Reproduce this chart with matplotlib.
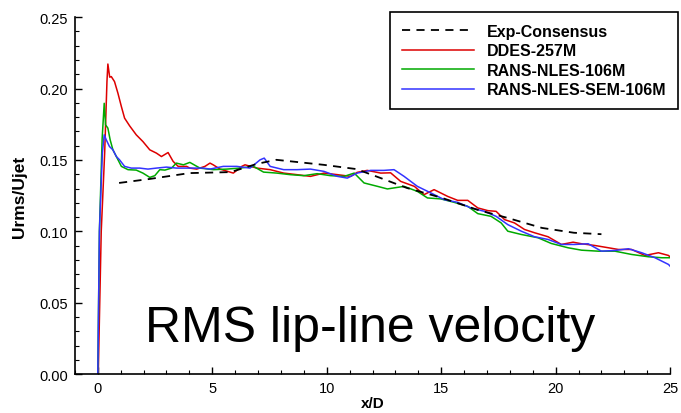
import matplotlib
matplotlib.use('Agg')
import matplotlib.pyplot as plt
from matplotlib.ticker import MultipleLocator

plt.rcParams['font.family'] = ['Liberation Sans', 'DejaVu Sans']

# Exp-Consensus (dashed)
exp_x = [0.93, 2.27, 4.0, 5.8, 6.96, 7.8, 9.86, 11.3, 12.36, 13.5, 15.0, 16.6, 17.9, 19.4, 20.8, 22.0]
exp_y = [0.1339, 0.1367, 0.1408, 0.1415, 0.1473, 0.1501, 0.1466, 0.1436, 0.1373, 0.1304, 0.1236,
         0.1150, 0.1094, 0.1024, 0.0990, 0.0980]

# DDES-257M
ddes_x = [0.02, 0.15, 0.30, 0.40, 0.44, 0.52, 0.59, 0.73, 0.88, 1.03, 1.17, 1.39, 1.68, 1.97,
          2.27, 2.56, 2.78, 3.07, 3.29, 3.51, 3.88, 4.02, 4.32, 4.68, 4.90, 5.04, 5.34, 5.92,
          6.29, 6.43, 6.95, 7.53, 8.12, 8.70, 9.29, 9.88, 10.47, 11.04, 11.33, 11.77, 12.36,
          12.79, 13.23, 13.83, 14.25, 14.69, 15.28, 15.72, 16.16, 16.60, 17.04, 17.40, 17.77,
          18.20, 18.64, 19.08, 19.67, 20.25, 20.76, 21.13, 21.71, 22.30, 22.74, 23.32, 23.90,
          24.49, 24.93, 25.0]
ddes_y = [0.0, 0.100, 0.155, 0.205, 0.2172, 0.2080, 0.2084, 0.2049, 0.1967, 0.1874, 0.1793,
          0.1739, 0.1676, 0.1629, 0.1571, 0.1548, 0.1524, 0.1552, 0.1490, 0.1455, 0.1455, 0.1443,
          0.1436, 0.1455, 0.1478, 0.1466, 0.1436, 0.1408, 0.1455, 0.1466, 0.1443, 0.1432, 0.1408,
          0.1397, 0.1385, 0.1408, 0.1397, 0.1385, 0.1413, 0.1427, 0.1408, 0.1410, 0.1350, 0.1315,
          0.1257, 0.1292, 0.1245, 0.1217, 0.1217, 0.1164, 0.1145, 0.1140, 0.1082, 0.1059, 0.1013,
          0.0990, 0.0962, 0.0908, 0.0924, 0.0913, 0.0901, 0.0885, 0.0873, 0.0873, 0.0831, 0.0850,
          0.0831, 0.0820]

# RANS-NLES-106M
nles_x = [0.0, 0.07, 0.19, 0.28, 0.34, 0.44, 0.54, 0.66, 0.81, 1.03, 1.32, 1.68, 1.97, 2.27,
          2.49, 2.71, 2.93, 3.22, 3.43, 3.74, 4.02, 4.46, 5.05, 5.63, 6.21, 6.80, 7.24, 7.82,
          8.41, 9.00, 9.58, 10.16, 10.76, 11.20, 11.63, 12.22, 12.65, 13.38, 13.96, 14.40, 14.99,
          15.57, 16.16, 16.60, 17.18, 17.62, 17.91, 18.50, 19.23, 19.81, 20.54, 21.13, 21.86,
          22.59, 23.32, 24.05, 24.64, 25.0]
nles_y = [0.0, 0.100, 0.165, 0.1897, 0.1746, 0.1723, 0.1641, 0.1571, 0.1524, 0.1455, 0.1432,
          0.1429, 0.1408, 0.1378, 0.1390, 0.1432, 0.1429, 0.1443, 0.1478, 0.1466, 0.1483, 0.1443,
          0.1432, 0.1436, 0.1443, 0.1455, 0.1415, 0.1408, 0.1397, 0.1390, 0.1404, 0.1390, 0.1385,
          0.1408, 0.1339, 0.1315, 0.1297, 0.1315, 0.1280, 0.1234, 0.1227, 0.1203, 0.1175, 0.1124,
          0.1105, 0.1059, 0.1001, 0.0978, 0.0955, 0.0915, 0.0885, 0.0868, 0.0861, 0.0861, 0.0838,
          0.0822, 0.0815, 0.0815]

# RANS-NLES-SEM-106M
sem_x = [0.0, 0.07, 0.20, 0.28, 0.37, 0.51, 0.66, 0.81, 0.95, 1.17, 1.46, 1.83, 2.19, 2.56,
         3.00, 3.44, 4.02, 4.60, 4.90, 5.48, 6.07, 6.65, 7.09, 7.27, 7.53, 8.12, 8.70, 9.29,
         9.88, 10.47, 10.90, 11.33, 11.92, 12.50, 12.94, 13.38, 13.96, 14.55, 15.13, 15.72,
         16.30, 16.89, 17.40, 17.91, 18.50, 19.08, 19.67, 20.25, 20.83, 21.42, 22.00, 22.59,
         23.18, 23.76, 24.34, 24.93, 25.0]
sem_y = [0.0, 0.100, 0.155, 0.1676, 0.1641, 0.1594, 0.1571, 0.1524, 0.1501, 0.1455, 0.1443,
         0.1443, 0.1436, 0.1443, 0.1450, 0.1443, 0.1443, 0.1443, 0.1436, 0.1455, 0.1455, 0.1443,
         0.1501, 0.1513, 0.1455, 0.1432, 0.1432, 0.1436, 0.1420, 0.1385, 0.1373, 0.1408, 0.1427,
         0.1427, 0.1432, 0.1385, 0.1315, 0.1269, 0.1222, 0.1203, 0.1164, 0.1140, 0.1105, 0.1047,
         0.1001, 0.0962, 0.0943, 0.0908, 0.0908, 0.0913, 0.0861, 0.0866, 0.0878, 0.0850, 0.0815,
         0.0768, 0.0756]

fig = plt.figure(figsize=(6.81, 4.14), dpi=100)
ax = fig.add_axes([0.110, 0.094, 0.874, 0.862])

ax.plot(exp_x, exp_y, color='black', linewidth=1.3, dashes=(4.5, 3.5), label='Exp-Consensus', zorder=4)
ax.plot(ddes_x, ddes_y, color='#dd0000', linewidth=1.1, label='DDES-257M')
ax.plot(nles_x, nles_y, color='#00aa00', linewidth=1.1, label='RANS-NLES-106M')
ax.plot(sem_x, sem_y, color='#3333ff', linewidth=1.1, label='RANS-NLES-SEM-106M')

ax.set_xlim(-1.0, 25)
ax.set_ylim(0, 0.25)
ax.xaxis.set_major_locator(MultipleLocator(5))
ax.xaxis.set_minor_locator(MultipleLocator(1))
ax.yaxis.set_major_locator(MultipleLocator(0.05))
ax.yaxis.set_minor_locator(MultipleLocator(0.01))
ax.yaxis.set_major_formatter(plt.FormatStrFormatter('%.2f'))

ax.spines['top'].set_visible(False)
ax.spines['right'].set_visible(False)
for s in ('left', 'bottom'):
    ax.spines[s].set_linewidth(1.2)
ax.tick_params(which='major', direction='in', length=5, width=1.0, labelsize=10.5, pad=5)
ax.tick_params(which='minor', direction='in', length=3, width=0.8)

ax.set_xlabel('x/D', fontsize=11, fontweight='bold', labelpad=1)
ax.set_ylabel('Urms/Ujet', fontsize=12.5, fontweight='bold', labelpad=9)

ax.text(2.05, 0.023, 'RMS lip-line velocity', fontsize=36, ha='left', va='baseline')

leg = ax.legend(loc='upper right', bbox_to_anchor=(0.9956, 0.9686), bbox_transform=fig.transFigure,
                borderaxespad=0, fancybox=False, framealpha=1, edgecolor='black',
                prop={'weight': 'bold', 'size': 11.5}, handlelength=4.5, handletextpad=0.8,
                labelspacing=0.28, borderpad=0.75)
leg.get_frame().set_linewidth(1.2)

plt.savefig('out.png', dpi=100)
